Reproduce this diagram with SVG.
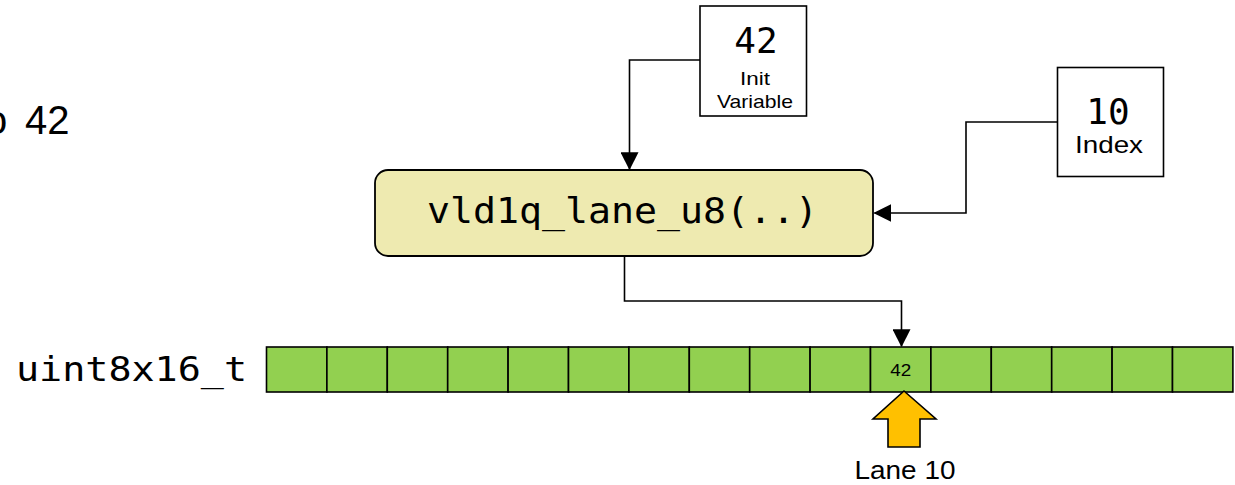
<svg xmlns="http://www.w3.org/2000/svg" width="1235" height="485" viewBox="0 0 1235 485">
  <style>
    .mono { font-family: "DejaVu Sans Mono", "Liberation Mono", monospace; fill: #000; }
    .sans { font-family: "Liberation Sans", Arial, sans-serif; fill: #000; }
    .box { fill: #fff; stroke: #000; stroke-width: 1.6; }
    .cell { fill: #92D050; stroke: #000; stroke-width: 1.6; }
    .wire { fill: none; stroke: #000; stroke-width: 1.6; }
  </style>
  <defs>
    <marker id="arrow" markerUnits="userSpaceOnUse" markerWidth="18" markerHeight="18" viewBox="0 0 16 16" refX="15" refY="8" orient="auto">
      <path d="M0,0 L16,8 L0,16 Z" fill="#000"/>
    </marker>
  </defs>

  <!-- caption fragment at the left edge -->
  <text class="sans" x="-15" y="134" font-size="40">o<tspan x="25">42</tspan></text>

  <!-- init variable -->
  <g id="init-variable">
    <rect class="box" x="700" y="6" width="106.5" height="110"/>
    <text class="mono" x="756" y="53" font-size="36" text-anchor="middle">42</text>
    <text class="sans" x="755" y="85" font-size="19" text-anchor="middle" textLength="30" lengthAdjust="spacingAndGlyphs">Init</text>
    <text class="sans" x="755" y="108" font-size="19" text-anchor="middle" textLength="76" lengthAdjust="spacingAndGlyphs">Variable</text>
  </g>

  <!-- lane index -->
  <g id="index">
    <rect class="box" x="1057.5" y="67.5" width="106" height="109"/>
    <text class="mono" x="1108" y="124" font-size="36" text-anchor="middle">10</text>
    <text class="sans" x="1109" y="153" font-size="24" text-anchor="middle" textLength="68" lengthAdjust="spacingAndGlyphs">Index</text>
  </g>

  <!-- intrinsic call -->
  <g id="vld1q-lane">
    <rect x="375" y="170" width="498" height="86" rx="13" ry="13" fill="#EEEAB0" stroke="#000" stroke-width="1.8"/>
    <text class="mono" x="622.5" y="223" font-size="35" text-anchor="middle" textLength="391" lengthAdjust="spacingAndGlyphs">vld1q_lane_u8(..)</text>
  </g>

  <!-- vector register -->
  <g id="uint8x16">
    <text class="mono" x="16" y="381" font-size="34" textLength="231" lengthAdjust="spacingAndGlyphs">uint8x16_t</text>
    <rect class="cell" x="266.5" y="347" width="60.4" height="45"/>
    <rect class="cell" x="326.9" y="347" width="60.4" height="45"/>
    <rect class="cell" x="387.3" y="347" width="60.4" height="45"/>
    <rect class="cell" x="447.7" y="347" width="60.4" height="45"/>
    <rect class="cell" x="508.1" y="347" width="60.4" height="45"/>
    <rect class="cell" x="568.5" y="347" width="60.4" height="45"/>
    <rect class="cell" x="628.9" y="347" width="60.4" height="45"/>
    <rect class="cell" x="689.3" y="347" width="60.4" height="45"/>
    <rect class="cell" x="749.7" y="347" width="60.4" height="45"/>
    <rect class="cell" x="810.1" y="347" width="60.4" height="45"/>
    <rect class="cell" x="870.5" y="347" width="60.4" height="45"/>
    <rect class="cell" x="930.9" y="347" width="60.4" height="45"/>
    <rect class="cell" x="991.3" y="347" width="60.4" height="45"/>
    <rect class="cell" x="1051.7" y="347" width="60.4" height="45"/>
    <rect class="cell" x="1112.1" y="347" width="60.4" height="45"/>
    <rect class="cell" x="1172.5" y="347" width="60.4" height="45"/>
    <text class="sans" x="900.7" y="375.5" font-size="17" text-anchor="middle" textLength="21" lengthAdjust="spacingAndGlyphs">42</text>
  </g>

  <!-- lane pointer -->
  <g id="lane-10">
    <polygon points="904,391 936,419 920,419 920,447 888,447 888,419 873,419" fill="#FFC000" stroke="#000" stroke-width="1.6" stroke-linejoin="miter"/>
    <text class="sans" x="905" y="479" font-size="25" text-anchor="middle" textLength="101" lengthAdjust="spacingAndGlyphs">Lane 10</text>
  </g>

  <!-- connectors -->
  <g id="connectors">
    <polyline class="wire" points="700,60 629.5,60 629.5,169" marker-end="url(#arrow)"/>
    <polyline class="wire" points="1057.5,122 966,122 966,213 874.5,213" marker-end="url(#arrow)"/>
    <polyline class="wire" points="624.5,256 624.5,301 901.5,301 901.5,346" marker-end="url(#arrow)"/>
  </g>
</svg>
